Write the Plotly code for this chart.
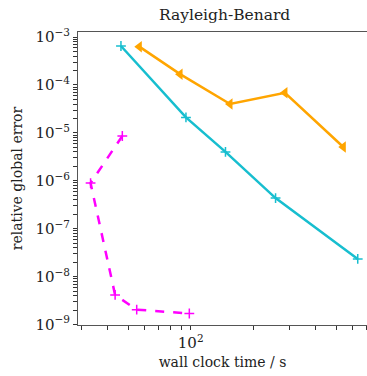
import plotly.graph_objects as go

# Data
cyan_x = [46.2, 94.9, 147.0, 256.0, 636.0]
cyan_y = [6.5e-4, 2.1e-5, 4.0e-6, 4.35e-7, 2.34e-8]

orange_x = [56.6, 88.9, 154.6, 284.0, 542.0]
orange_y = [6.3e-4, 1.68e-4, 4.0e-5, 6.85e-5, 5.07e-6]

magenta_x = [46.9, 33.0, 43.3, 55.0, 98.5]
magenta_y = [8.6e-6, 8.95e-7, 4.14e-9, 2.04e-9, 1.7e-9]

title_text = "Rayleigh-Benard"
x_title = "wall clock time / s"
y_title = "relative global error"

x_decades = [1, 2]
y_decades = [-10, -9, -8, -7, -6, -5, -4, -3]
tick_digits = [1, 2, 3, 4, 5, 6, 7, 8, 9]

def ticks_for(decades):
    vals, texts = [], []
    for e in decades:
        for d in tick_digits:
            vals.append(d * 10.0 ** e)
            if d == 1:
                texts.append("10<sup>" + str(e).replace("-", "\u2212") + "</sup>")
            else:
                texts.append("")
    return vals, texts

x_tickvals, x_ticktext = ticks_for(x_decades)
y_tickvals, y_ticktext = ticks_for(y_decades)

X_RANGE = [1.458, 2.848]
Y_RANGE = [-9.01, -2.895]
FONT = "DejaVu Serif"

fig = go.Figure()
fig.add_trace(go.Scatter(
    x=cyan_x, y=cyan_y, mode="lines+markers",
    line=dict(color="#17becf", width=2.5),
    marker=dict(symbol="cross-thin", size=7, line=dict(color="#17becf", width=1.5)),
    showlegend=False))
fig.add_trace(go.Scatter(
    x=orange_x, y=orange_y, mode="lines+markers",
    line=dict(color="#ffa500", width=2.5),
    marker=dict(symbol="triangle-left", size=10, color="#ffa500"),
    showlegend=False))
fig.add_trace(go.Scatter(
    x=magenta_x, y=magenta_y, mode="lines+markers",
    line=dict(color="#ff00ff", width=2.5, dash="dash"),
    marker=dict(symbol="cross-thin", size=7, line=dict(color="#ff00ff", width=1.5)),
    showlegend=False))

fig.update_layout(
    width=367, height=376,
    margin=dict(l=78, r=0, t=32, b=51),
    paper_bgcolor="white", plot_bgcolor="white",
    font=dict(family=FONT, size=14, color="#222"),
    title=dict(text=title_text, x=0.612, xanchor="center", y=0.962, yanchor="middle",
               font=dict(family=FONT, size=15.5, color="#222")),
    xaxis=dict(
        type="log", range=X_RANGE, tickmode="array",
        tickvals=x_tickvals, ticktext=x_ticktext,
        showgrid=False, zeroline=False,
        showline=True, linecolor="#555", linewidth=1, mirror=True,
        ticks="outside", ticklen=4, tickcolor="#333", tickwidth=1,
        title=dict(text=x_title, font=dict(family=FONT, size=14), standoff=6),
        tickfont=dict(family=FONT, size=15)),
    yaxis=dict(
        type="log", range=Y_RANGE, tickmode="array",
        tickvals=y_tickvals, ticktext=y_ticktext,
        showgrid=False, zeroline=False,
        showline=True, linecolor="#555", linewidth=1, mirror=False,
        ticks="outside", ticklen=4, tickcolor="#333", tickwidth=1,
        title=dict(text=y_title, font=dict(family=FONT, size=14), standoff=9),
        tickfont=dict(family=FONT, size=15)),
)

fig.write_html("out.html")
